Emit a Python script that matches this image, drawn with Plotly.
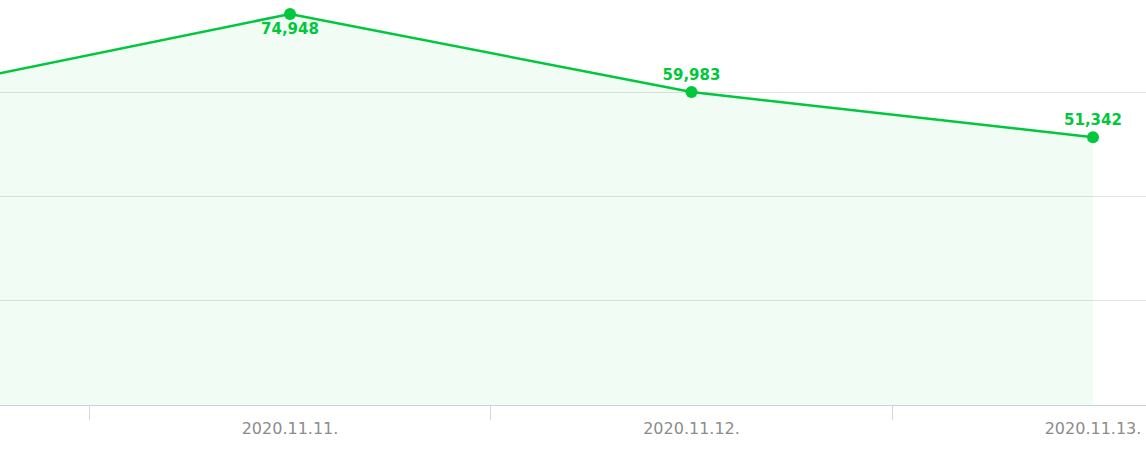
import plotly.graph_objects as go

dates = ["2020.11.10.", "2020.11.11.", "2020.11.12.", "2020.11.13."]
values = [59210, 74948, 59983, 51342]
label_pos = ["top center", "bottom center", "top center", "top center"]
show_label = [False, True, True, True]

green = "#00c73c"

fig = go.Figure()
fig.add_trace(go.Scatter(
    x=dates,
    y=values,
    mode="lines+markers+text",
    line=dict(color=green, width=2.5),
    marker=dict(color=green, size=12),
    fill="tozeroy",
    fillcolor="rgba(0,199,60,0.06)",
    text=[f"{v:,}" if s else "" for v, s in zip(values, show_label)],
    textposition=label_pos,
    textfont=dict(family="DejaVu Sans", size=15, color=green, weight="bold"),
    cliponaxis=True,
    hoverinfo="skip",
))

fig.update_layout(
    width=1146,
    height=460,
    margin=dict(l=0, r=0, t=0, b=55, autoexpand=False),
    paper_bgcolor="white",
    plot_bgcolor="white",
    showlegend=False,
    xaxis=dict(
        type="category",
        range=[0.2777, 3.132],
        tickson="boundaries",
        ticks="outside",
        ticklen=14,
        tickcolor="#d3d8e6",
        showline=True,
        linecolor="#c9d0e2",
        linewidth=1,
        showgrid=False,
        ticklabelstandoff=9,
        tickfont=dict(family="DejaVu Sans", size=16, color="#8c8c8c"),
        fixedrange=True,
    ),
    yaxis=dict(
        range=[0, 77636],
        dtick=20000,
        showticklabels=False,
        showgrid=True,
        gridcolor="#e2e2e2",
        gridwidth=1,
        zeroline=False,
        fixedrange=True,
    ),
)

fig.write_html(
    "out.html",
    config={"displayModeBar": False},
    post_script="document.body.style.margin='0';document.body.style.padding='0';",
)
